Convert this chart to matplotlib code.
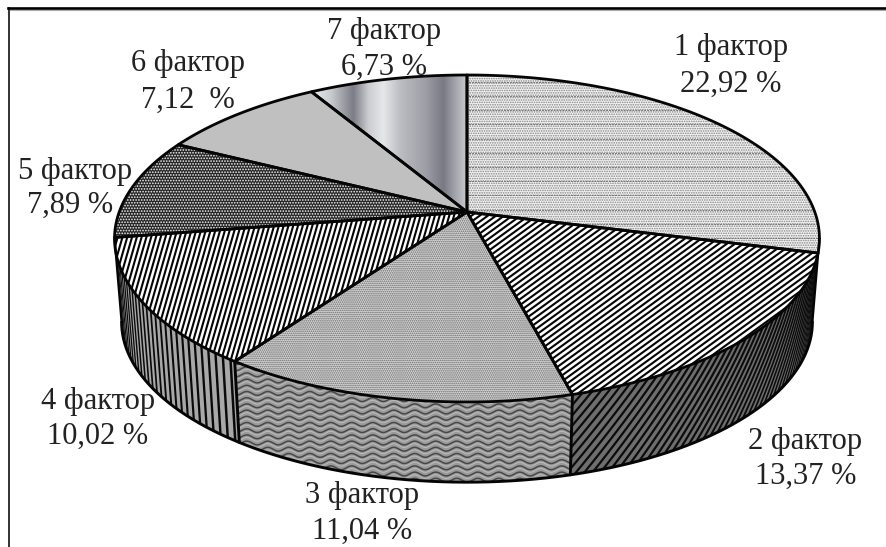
import numpy as np
import matplotlib
matplotlib.use("Agg")
import matplotlib.pyplot as plt
from matplotlib.patches import Polygon

plt.rcParams['font.family'] = ['Liberation Serif', 'DejaVu Serif']
plt.rcParams['hatch.linewidth'] = 0.8

# ---- data ----
factors = ["1 фактор", "2 фактор", "3 фактор", "4 фактор", "5 фактор", "6 фактор", "7 фактор"]
values = [22.92, 13.37, 11.04, 10.02, 7.89, 7.12, 6.73]
value_labels = ["22,92 %", "13,37 %", "11,04 %", "10,02 %", "7,89 %", "7,12  %", "6,73 %"]
label_x = [731, 805, 362, 98, 75, 188, 384]
label_x2 = [731, 806, 362, 98, 70, 188, 384]
label_y1 = [48, 441, 496, 401, 171, 64, 32]
label_y2 = [84, 476, 531, 436, 205, 100, 67]

fig = plt.figure(figsize=(8.86, 5.47), dpi=100)
ax = fig.add_axes([0, 0, 1, 1])
ax.set_xlim(0, 886)
ax.set_ylim(547, 0)
ax.axis('off')

# perspective projection of the disc
CX, CY = 467.0, 212.0
A, B, K = 347.8, 159.2, 0.162
DEPTH, SHR = 84.0, 0.98


def proj(t_deg, r=1.0, z=1.0):
    """t clockwise from top, z=1 top rim, z=0 bottom rim."""
    t = np.radians(t_deg)
    X, Y = r * np.sin(t), r * np.cos(t)
    s = SHR + (1 - SHR) * z
    d = 1 + K * Y
    return CX + s * A * X / d, CY + (1 - z) * DEPTH - s * B * Y / d


cum = np.concatenate([[0], np.cumsum(values)]) / np.sum(values) * 360
WALL_A, WALL_B = 99.3, 260.7


def wedge_poly(t0, t1):
    ts = np.linspace(t0, t1, 80)
    x, y = proj(ts)
    cx, cy = proj(0.0, 0.0)
    return np.column_stack([np.r_[cx, x], np.r_[cy, y]])


def wall_poly(t0, t1):
    ts = np.linspace(t0, t1, 60)
    xt, yt = proj(ts, z=1.0)
    xb, yb = proj(ts[::-1], z=0.0)
    return np.column_stack([np.r_[xt, xb], np.r_[yt, yb]])


def add_poly(pts, fc, hatch=None, hc='k', z=2):
    p = Polygon(pts, closed=True, facecolor=fc, edgecolor=hc if hatch else 'none',
                hatch=hatch, lw=0, zorder=z)
    ax.add_patch(p)
    return p


def line_hatch(patch, angle, spacing, color, lw, z=3, dash=None):
    """Straight hatch lines in screen space, clipped to the patch."""
    th = np.radians(angle)
    dx, dy = np.cos(th), -np.sin(th)
    nx, ny = -dy, dx
    for o in np.arange(-1100, 1100, spacing):
        x0, y0 = 443 + nx * o, 273 + ny * o
        ln, = ax.plot([x0 - dx * 1100, x0 + dx * 1100], [y0 - dy * 1100, y0 + dy * 1100],
                      color=color, lw=lw, zorder=z, solid_capstyle='butt')
        if dash:
            ln.set_linestyle(dash)
        ln.set_clip_path(patch)


def outline(pts, lw=2.1, z=6):
    ax.plot(pts[:, 0], pts[:, 1], color='#050505', lw=lw, zorder=z,
            solid_joinstyle='round', solid_capstyle='round')


def foreshort(t):
    """Stroke width factor: stripes thin out as the cylinder turns away."""
    return np.clip(abs(np.cos(np.radians(t))) / 0.85, 0.16, 1.0)


# ---- side wall ----
for i in range(3):
    t0, t1 = max(cum[i], WALL_A), min(cum[i + 1], WALL_B)
    pts = wall_poly(t0, t1)
    if i == 0:
        add_poly(pts, '#555555')
    elif i == 1:
        w = add_poly(pts, '#6e6e6e')
        for t in np.arange(t0 - 5, t1 + 20, 1.45):
            zz = np.linspace(0, 1, 12)
            x, y = proj(t - 11 * zz, z=zz)
            ln, = ax.plot(x, y, color='#0c0c0c', lw=1.6 * foreshort(t), zorder=3)
            ln.set_clip_path(w)
    elif i == 2:
        w = add_poly(pts, '#9a9a9a')
        xs = np.linspace(225, 585, 500)
        for y0 in np.arange(350, 495, 6.2):
            for off, col, lw_ in ((0, '#484848', 1.1), (2.6, '#bcbcbc', 0.7)):
                ys = y0 + off + 1.9 * np.sin(xs / 21.0 * 2 * np.pi)
                ln, = ax.plot(xs, ys, color=col, lw=lw_, zorder=3)
                ln.set_clip_path(w)

# wall of slice 4 (vertical stripes wrapped on the cylinder) and 3/4 separators
t0, t1 = cum[3], min(cum[4], WALL_B)
w = add_poly(wall_poly(t0, t1), '#a8a8a8')
for t in np.arange(t0 + 0.8, t1, 1.5):
    zz = np.array([0.0, 1.0])
    x, y = proj(np.array([t, t]), z=zz)
    ln, = ax.plot(x, y, color='#0a0a0a', lw=1.9 * foreshort(t), zorder=3)
    ln.set_clip_path(w)

# wall outlines
ts = np.linspace(WALL_A, WALL_B, 300)
outline(np.column_stack(proj(ts, z=0.0)))
for t in (cum[2], cum[3]):
    zz = np.array([0.0, 1.0])
    outline(np.column_stack(proj(np.array([t, t]), z=zz)))
for t in (WALL_A, WALL_B):
    zz = np.array([0.0, 1.0])
    outline(np.column_stack(proj(np.array([t, t]), z=zz)), lw=1.6)

# ---- top surface ----
# 1: light dotted with thin horizontal rows
p = add_poly(wedge_poly(cum[0], cum[1]), '#f2f2f2', hatch='.......', hc='#858585')
line_hatch(p, 0, 14.2, '#777777', 0.7, dash=(0, (2, 1)))
# 2: fine diagonal
p = add_poly(wedge_poly(cum[1], cum[2]), '#ffffff')
line_hatch(p, 36, 4.8, '#050505', 1.5)
# 3: fine gray texture
p = add_poly(wedge_poly(cum[2], cum[3]), '#d8d8d8', hatch='........', hc='#666666')
# 4: steep stripes
p = add_poly(wedge_poly(cum[3], cum[4]), '#ffffff')
line_hatch(p, 74, 4.6, '#050505', 1.5)
# 5: dark with light dots
p = add_poly(wedge_poly(cum[4], cum[5]), '#262626', hatch='......', hc='#f4f4f4')
# 6: solid gray
add_poly(wedge_poly(cum[5], cum[6]), '#c0c0c0')
# 7: metallic gradient
p = add_poly(wedge_poly(cum[6], cum[7]), 'none')
stops_x = [313, 330, 353, 368, 383, 400, 425, 443, 455, 467]
stops_g = [235, 205, 125, 205, 232, 190, 160, 122, 165, 205]
gx = np.arange(305, 475)
g = np.interp(gx, stops_x, stops_g)
rgb = np.stack([g * 0.99, g, g + 10 * (255 - g) / 130], axis=-1).clip(0, 255).astype(np.uint8)[None, :, :]
im = ax.imshow(rgb, extent=[305, 475, 215, 70], aspect='auto', zorder=2)
im.set_clip_path(p)
ax.set_xlim(0, 886)
ax.set_ylim(547, 0)

# wedge outlines
for i in range(7):
    pts = wedge_poly(cum[i], cum[i + 1])
    outline(np.vstack([pts, pts[0]]), lw=2.0)

# ---- labels ----
for n, v, x, x2, y1, y2 in zip(factors, value_labels, label_x, label_x2, label_y1, label_y2):
    ax.text(x, y1, n, ha='center', va='center', fontsize=22, color='#222222', zorder=8)
    ax.text(x2, y2, v, ha='center', va='center', fontsize=22, color='#222222', zorder=8)

# ---- frame ----
ax.plot([9, 9], [547, 8], color='#222222', lw=1.3, zorder=9)
ax.plot([8, 886], [8, 8], color='#000000', lw=1.9, zorder=9)
ax.plot([10, 886], [10.2, 10.2], color='#aaaaaa', lw=0.8, zorder=8)

fig.savefig('out.png', dpi=100)
